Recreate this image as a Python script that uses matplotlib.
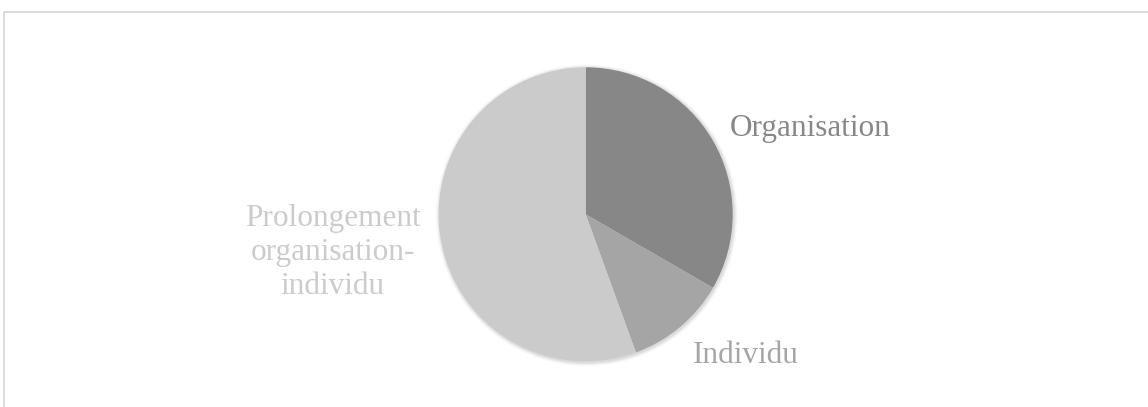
import matplotlib.pyplot as plt
from matplotlib.patches import Rectangle

categories = ["Organisation", "Individu", "Prolongement\norganisation-\nindividu"]
values = [3, 1, 5]
colors = ["#878787", "#a5a5a5", "#cbcbcb"]

W, H = 1148, 407
fig = plt.figure(figsize=(W / 100, H / 100), dpi=100)
ax = fig.add_axes([0, 0, 1, 1])
ax.set_aspect("equal")

# light frame of the chart area
fig.patches.append(Rectangle((4 / W, -0.1), 1.2, (H - 12) / H + 0.1, transform=fig.transFigure,
                             fill=False, edgecolor="#d9d9d9", linewidth=1.3))

center = (585.7, H - 214.3)
radius = 147

# soft shadow
for i, a in enumerate([0.05, 0.04, 0.03, 0.02]):
    ax.add_patch(plt.Circle((center[0] + 1, center[1] - 1), radius + 1 + i, color="black", alpha=a, lw=0))

wedges, _ = ax.pie(values, colors=colors, startangle=90, counterclock=False,
                   center=center, radius=radius, frame=True)
ax.set_xlim(0, W)
ax.set_ylim(0, H)
ax.axis("off")

# label positions, offsets from the pie centre in pixels
label_offsets = [(224, 86), (160, -141), (-253, -38)]
for lab, col, (dx, dy) in zip(categories, colors, label_offsets):
    ax.text(center[0] + dx, center[1] + dy, lab, color=col, fontsize=22.5,
            family="Liberation Serif", ha="center", va="center", linespacing=1.22)

fig.savefig("out.png", dpi=100)
